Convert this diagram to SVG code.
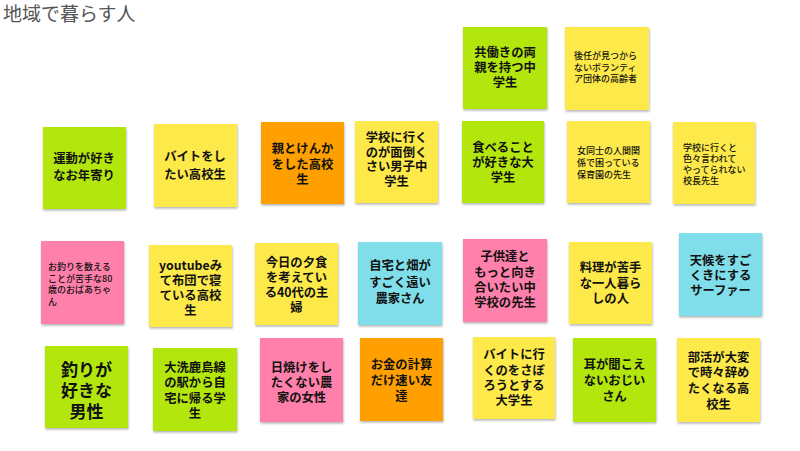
<svg xmlns="http://www.w3.org/2000/svg" width="800" height="451" viewBox="0 0 800 451">
<defs>
<filter id="sh" x="-10%" y="-10%" width="130%" height="130%">
<feDropShadow dx="0.5" dy="1.5" stdDeviation="1" flood-color="#000" flood-opacity="0.3"/>
</filter>
</defs>
<style>
rect{filter:url(#sh)}
.g{fill:#b3e60c}.y{fill:#fde94a}.o{fill:#ffa000}.p{fill:#ff80ab}.c{fill:#80deea}
text{font-family:"Noto Sans CJK JP","Noto Sans",sans-serif;fill:#111;dominant-baseline:central}
.m{font-size:12.3px;font-weight:bold;text-anchor:middle}
.s{font-size:9px;font-weight:500}
.b{font-size:17px;font-weight:bold;text-anchor:middle}
.t{font-size:19px;fill:#555;dominant-baseline:auto}
</style>
<rect width="800" height="451" fill="#fff" style="filter:none"/>
<text class="t" x="3" y="21">地域で暮らす人</text>
<g id="connectors"></g>
<g id="n1"><rect class="g" x="463" y="27" width="84" height="82"/><text class="m" x="505" y="52">共働きの両</text><text class="m" x="505" y="67">親を持つ中</text><text class="m" x="505" y="82">学生</text></g>
<g id="n2"><rect class="y" x="565" y="27" width="84" height="83"/><text class="s" x="574" y="55">後任が見つから</text><text class="s" x="574" y="67">ないボランティ</text><text class="s" x="574" y="78">ア団体の高齢者</text></g>
<g id="n3"><rect class="g" x="43" y="127" width="83" height="82"/><text class="m" x="84" y="158">運動が好き</text><text class="m" x="84" y="175">なお年寄り</text></g>
<g id="n4"><rect class="y" x="154" y="124" width="83" height="83"/><text class="m" x="195" y="156">バイトをし</text><text class="m" x="195" y="174">たい高校生</text></g>
<g id="n5"><rect class="o" x="261" y="122" width="83" height="82"/><text class="m" x="302.5" y="148">親とけんか</text><text class="m" x="302.5" y="164">をした高校</text><text class="m" x="302.5" y="179">生</text></g>
<g id="n6"><rect class="y" x="355" y="121" width="83" height="82"/><text class="m" x="396.5" y="137">学校に行く</text><text class="m" x="396.5" y="151.5">のが面倒く</text><text class="m" x="396.5" y="166">さい男子中</text><text class="m" x="396.5" y="180.5">学生</text></g>
<g id="n7"><rect class="g" x="462" y="121" width="82" height="82"/><text class="m" x="503" y="147">食べること</text><text class="m" x="503" y="162">が好きな大</text><text class="m" x="503" y="177">学生</text></g>
<g id="n8"><rect class="y" x="567" y="121" width="83" height="82"/><text class="s" x="577" y="150">女同士の人間関</text><text class="s" x="577" y="162">係で困っている</text><text class="s" x="577" y="174">保育園の先生</text></g>
<g id="n9"><rect class="y" x="673" y="122" width="82" height="82"/><text class="s" x="683" y="147">学校に行くと</text><text class="s" x="683" y="158">色々言われて</text><text class="s" x="683" y="169">やってられない</text><text class="s" x="683" y="180">校長先生</text></g>
<g id="n10"><rect class="p" x="41" y="241" width="83" height="83"/><text class="s" x="48" y="266">お釣りを数える</text><text class="s" x="48" y="278">ことが苦手な80</text><text class="s" x="48" y="289">歳のおばあちゃ</text><text class="s" x="48" y="301">ん</text></g>
<g id="n11"><rect class="y" x="149" y="245" width="83" height="82"/><text class="m" x="190.5" y="265">youtubeみ</text><text class="m" x="190.5" y="280">て布団で寝</text><text class="m" x="190.5" y="295">ている高校</text><text class="m" x="190.5" y="310">生</text></g>
<g id="n12"><rect class="y" x="255" y="243" width="83" height="82"/><text class="m" x="296.5" y="262">今日の夕食</text><text class="m" x="296.5" y="277">を考えてい</text><text class="m" x="296.5" y="292">る40代の主</text><text class="m" x="296.5" y="307">婦</text></g>
<g id="n13"><rect class="c" x="358" y="242" width="84" height="83"/><text class="m" x="400" y="265">自宅と畑が</text><text class="m" x="400" y="282">すごく遠い</text><text class="m" x="400" y="298">農家さん</text></g>
<g id="n14"><rect class="p" x="463" y="239" width="84" height="83"/><text class="m" x="505" y="256">子供達と</text><text class="m" x="505" y="272">もっと向き</text><text class="m" x="505" y="287">合いたい中</text><text class="m" x="505" y="302">学校の先生</text></g>
<g id="n15"><rect class="y" x="569" y="242" width="83" height="82"/><text class="m" x="610.5" y="267">料理が苦手</text><text class="m" x="610.5" y="283">な一人暮ら</text><text class="m" x="610.5" y="298">しの人</text></g>
<g id="n16"><rect class="c" x="679" y="233" width="83" height="83"/><text class="m" x="720.5" y="260">天候をすご</text><text class="m" x="720.5" y="275">くきにする</text><text class="m" x="720.5" y="290">サーファー</text></g>
<g id="n17"><rect class="g" x="45" y="346" width="83" height="82"/><text class="b" x="86.5" y="368">釣りが</text><text class="b" x="86.5" y="389">好きな</text><text class="b" x="86.5" y="410">男性</text></g>
<g id="n18"><rect class="g" x="153" y="348" width="84" height="83"/><text class="m" x="195" y="367">大洗鹿島線</text><text class="m" x="195" y="382">の駅から自</text><text class="m" x="195" y="398">宅に帰る学</text><text class="m" x="195" y="413">生</text></g>
<g id="n19"><rect class="p" x="260" y="338" width="83" height="84"/><text class="m" x="301.5" y="367">日焼けをし</text><text class="m" x="301.5" y="382">たくない農</text><text class="m" x="301.5" y="397">家の女性</text></g>
<g id="n20"><rect class="o" x="360" y="338" width="83" height="83"/><text class="m" x="401.5" y="364">お金の計算</text><text class="m" x="401.5" y="380">だけ速い友</text><text class="m" x="401.5" y="396">達</text></g>
<g id="n21"><rect class="y" x="473" y="337" width="82" height="82"/><text class="m" x="514" y="354">バイトに行</text><text class="m" x="514" y="370">くのをさぼ</text><text class="m" x="514" y="385">ろうとする</text><text class="m" x="514" y="400">大学生</text></g>
<g id="n22"><rect class="g" x="573" y="338" width="83" height="84"/><text class="m" x="614.5" y="364">耳が聞こえ</text><text class="m" x="614.5" y="380">ないおじい</text><text class="m" x="614.5" y="396">さん</text></g>
<g id="n23"><rect class="y" x="677" y="338" width="83" height="84"/><text class="m" x="718.5" y="357">部活が大変</text><text class="m" x="718.5" y="372">で時々辞め</text><text class="m" x="718.5" y="388">たくなる高</text><text class="m" x="718.5" y="404">校生</text></g>
</svg>
